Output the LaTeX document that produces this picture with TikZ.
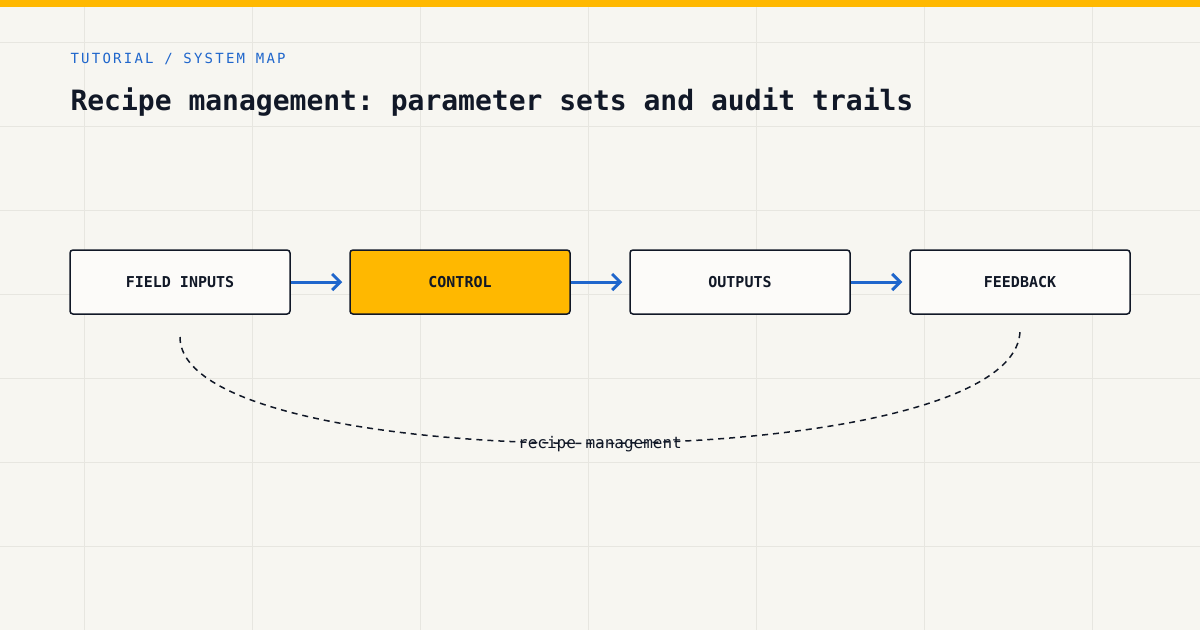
\documentclass[tikz,border=0pt]{standalone}
\usepackage{fontspec}
\setmonofont{DejaVu Sans Mono}
\usetikzlibrary{arrows.meta}
\definecolor{bg}{HTML}{F7F6F1}
\definecolor{gridc}{HTML}{E7E6E0}
\definecolor{accent}{HTML}{FFB800}
\definecolor{blu}{HTML}{1F66CC}
\definecolor{ink}{HTML}{111827}
\begin{document}
\begin{tikzpicture}[x=1pt,y=-1pt,
  box/.style={draw=ink,line width=1.5pt,rounded corners=3pt,minimum width=220pt,minimum height=64pt,fill=white!60!bg,font=\ttfamily\bfseries\fontsize{15}{17}\selectfont,text=ink},
  flow/.style={blu,line width=3pt,shorten >=7pt,-{Straight Barb[length=8pt,width=16pt,line width=3pt]}}]
\fill[bg] (0,0) rectangle (1200,630);
\useasboundingbox (0,0) rectangle (1200,630);
\foreach \x in {84,252,...,1092} \draw[gridc,line width=1pt] (\x,0) -- (\x,630);
\foreach \y in {42,126,...,546} \draw[gridc,line width=1pt] (0,\y) -- (1200,\y);
\fill[accent] (0,0) rectangle (1200,7);
\node[anchor=west,text=blu,font=\ttfamily\fontsize{14}{16}\selectfont\addfontfeature{LetterSpace=16}] (sub) at (67,59) {TUTORIAL / SYSTEM MAP};
\node[anchor=west,text=ink,font=\ttfamily\bfseries\fontsize{28}{32}\selectfont] (title) at (67,102) {Recipe management: parameter sets and audit trails};
\node[box] (a) at (180,282) {FIELD INPUTS};
\node[box,fill=accent] (b) at (460,282) {CONTROL};
\node[box] (c) at (740,282) {OUTPUTS};
\node[box] (d) at (1020,282) {FEEDBACK};
\draw[flow] (a.east) -- (b.west);
\draw[flow] (b.east) -- (c.west);
\draw[flow] (c.east) -- (d.west);
\coordinate (s) at (180,337);
\coordinate (e) at (1020,330);
\draw[ink,line width=1.5pt,dash pattern=on 6pt off 5pt] (s) .. controls (180,480) and (1020,480) .. (e);
\node[text=ink,font=\ttfamily\fontsize{16}{18}\selectfont] (lbl) at (600,444) {recipe management};
\end{tikzpicture}
\end{document}
